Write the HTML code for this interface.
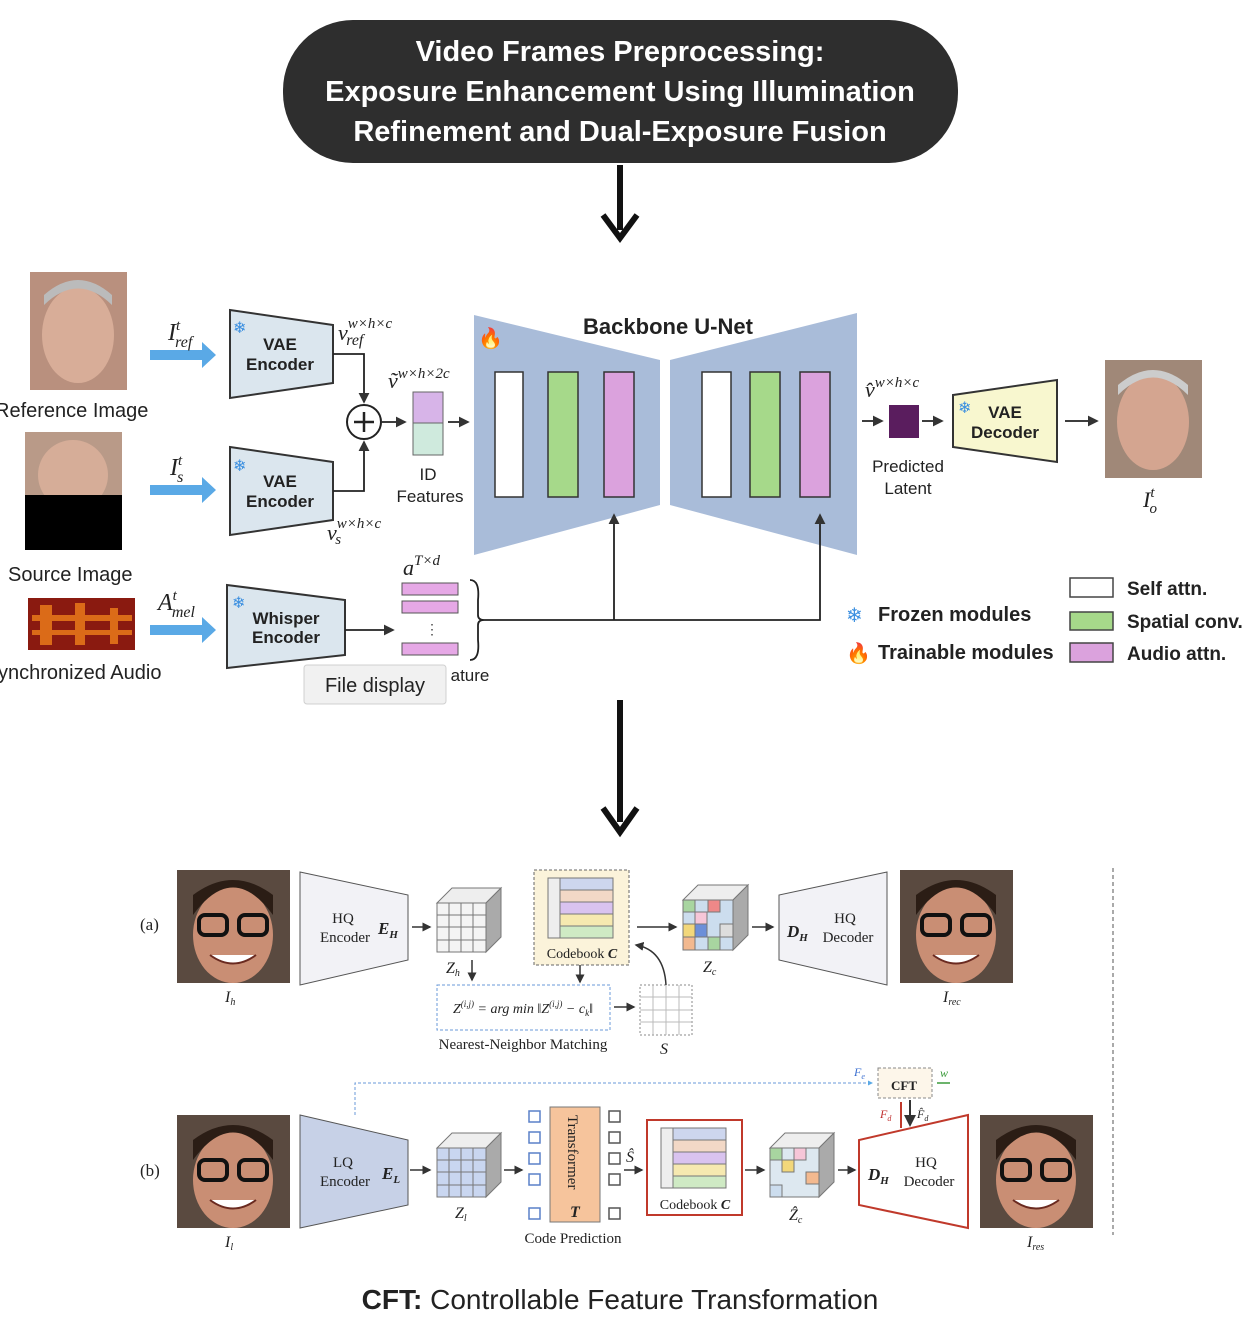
<!DOCTYPE html>
<html><head><meta charset="utf-8"><style>
html,body{margin:0;padding:0;background:#fff;}
svg{display:block;}
.s{font-family:"Liberation Sans",sans-serif;}
.r{font-family:"Liberation Serif",serif;}
</style></head><body>
<svg width="1260" height="1324" viewBox="0 0 1260 1324" xmlns="http://www.w3.org/2000/svg">
<defs>
<marker id="ahs" markerWidth="6" markerHeight="6" refX="5" refY="3" orient="auto"><path d="M0,0 L6,3 L0,6 z" fill="#333"/></marker>
<marker id="ahb" markerWidth="5" markerHeight="5" refX="4" refY="2.5" orient="auto"><path d="M0,0 L5,2.5 L0,5 z" fill="#5aa9e6"/></marker>
</defs>
<rect x="283" y="20" width="675" height="143" rx="70" fill="#2e2e2e"/>
<g class="s" fill="#fff" font-weight="bold" font-size="29" text-anchor="middle">
<text x="620" y="61">Video Frames Preprocessing:</text>
<text x="620" y="101">Exposure Enhancement Using Illumination</text>
<text x="620" y="141">Refinement and Dual-Exposure Fusion</text>
</g>
<line x1="620" y1="165" x2="620" y2="230" stroke="#111" stroke-width="6"/>
<path d="M603,215 L620,238 L637,215" fill="none" stroke="#111" stroke-width="6"/>

<rect x="30" y="272" width="97" height="118" fill="#b9907e"/>
<ellipse cx="78" cy="335" rx="36" ry="48" fill="#d8ad98"/>
<path d="M44,305 Q78,272 112,305 L112,295 Q78,265 44,295z" fill="#bbb"/>
<text x="-5" y="417" class="s" font-size="20" fill="#222">Reference Image</text>
<rect x="25" y="432" width="97" height="118" fill="#000"/>
<rect x="25" y="432" width="97" height="63" fill="#b99a88"/>
<ellipse cx="73" cy="475" rx="35" ry="35" fill="#d6ad98"/>
<rect x="25" y="495" width="97" height="55" fill="#000"/>
<text x="8" y="581" class="s" font-size="20" fill="#222">Source Image</text>
<rect x="28" y="598" width="107" height="52" fill="#8a1a10"/>
<g fill="#f0801a" opacity="0.8"><rect x="32" y="615" width="100" height="6"/><rect x="32" y="630" width="100" height="5"/><rect x="40" y="605" width="12" height="40"/><rect x="75" y="603" width="10" height="42"/><rect x="110" y="608" width="8" height="36"/></g>
<text x="-2" y="679" class="s" font-size="20" fill="#222">ynchronized Audio</text>

<g fill="#5aa9e6">
<path d="M150,350 h52 v-8 l14,13 l-14,13 v-8 h-52z"/>
<path d="M150,485 h52 v-8 l14,13 l-14,13 v-8 h-52z"/>
<path d="M150,625 h52 v-8 l14,13 l-14,13 v-8 h-52z"/>
</g>
<g class="r" font-style="italic" font-size="24" fill="#222">
<text x="168" y="340">I<tspan font-size="15" dy="-10">t</tspan><tspan font-size="16" dx="-5" dy="17">ref</tspan></text>
<text x="170" y="475">I<tspan font-size="15" dy="-10">t</tspan><tspan font-size="16" dx="-5" dy="17">s</tspan></text>
<text x="158" y="610">A<tspan font-size="15" dy="-10">t</tspan><tspan font-size="16" dx="-5" dy="17">mel</tspan></text>
</g>

<g stroke="#333" stroke-width="2" fill="#dbe6ee">
<path d="M230,310 L333,325 L333,383 L230,398z"/>
<path d="M230,447 L333,462 L333,520 L230,535z"/>
<path d="M227,585 L345,600 L345,655 L227,668z"/>
</g>
<g class="s" font-weight="bold" font-size="17" fill="#222" text-anchor="middle">
<text x="280" y="350">VAE</text><text x="280" y="370">Encoder</text>
<text x="280" y="487">VAE</text><text x="280" y="507">Encoder</text>
<text x="286" y="624">Whisper</text><text x="286" y="643">Encoder</text>
</g>
<g fill="#3b8fe0" font-size="16" class="s"><text x="233" y="333">❄</text><text x="233" y="471">❄</text><text x="232" y="608">❄</text></g>

<g fill="none" stroke="#222" stroke-width="1.8">
<path d="M333,354 H364 V402" marker-end="url(#ahs)"/>
<path d="M333,491 H364 V442" marker-end="url(#ahs)"/>
<line x1="382" y1="422" x2="405" y2="422" marker-end="url(#ahs)"/>
<line x1="448" y1="422" x2="468" y2="422" marker-end="url(#ahs)"/>
<line x1="345" y1="630" x2="393" y2="630" marker-end="url(#ahs)"/>
</g>
<circle cx="364" cy="422" r="17" fill="#fff" stroke="#222" stroke-width="2"/>
<path d="M364,412 V432 M354,422 H374" stroke="#222" stroke-width="2.5"/>
<rect x="413" y="392" width="30" height="31" fill="#d7b4e8" stroke="#666"/>
<rect x="413" y="423" width="30" height="32" fill="#cfeadd" stroke="#666"/>
<g class="r" font-style="italic" font-size="22" fill="#222">
<text x="338" y="340">v<tspan font-size="15" dy="-12">w×h×c</tspan><tspan font-size="16" dx="-46" dy="17">ref</tspan></text>
<text x="388" y="388">ṽ<tspan font-size="15" dy="-10">w×h×2c</tspan></text>
<text x="327" y="540">v<tspan font-size="15" dy="-12">w×h×c</tspan><tspan font-size="15" dx="-46" dy="16">s</tspan></text>
<text x="403" y="575">a<tspan font-size="15" dy="-10">T×d</tspan></text>
<text x="865" y="397">v̂<tspan font-size="15" dy="-10">w×h×c</tspan></text>
<text x="1143" y="507">I<tspan font-size="15" dy="-10">t</tspan><tspan font-size="15" dx="-5" dy="16">o</tspan></text>
</g>
<g class="s" font-size="17" fill="#222" text-anchor="middle">
<text x="428" y="480">ID</text><text x="430" y="502">Features</text>
<text x="908" y="472">Predicted</text><text x="908" y="494">Latent</text>
<text x="470" y="681">ature</text>
</g>

<path d="M474,315 L660,360 L660,505 L474,555z" fill="#a9bcd9"/>
<path d="M670,360 L857,313 L857,555 L670,505z" fill="#a9bcd9"/>
<g stroke="#333" stroke-width="1.5">
<rect x="495" y="372" width="28" height="125" fill="#fff"/>
<rect x="548" y="372" width="30" height="125" fill="#a6d98a"/>
<rect x="604" y="372" width="30" height="125" fill="#dba2dd"/>
<rect x="702" y="372" width="29" height="125" fill="#fff"/>
<rect x="750" y="372" width="30" height="125" fill="#a6d98a"/>
<rect x="800" y="372" width="30" height="125" fill="#dba2dd"/>
</g>
<text x="668" y="334" class="s" font-weight="bold" font-size="22" fill="#222" text-anchor="middle">Backbone U-Net</text>
<text x="478" y="345" font-size="20" fill="#f07a20">🔥</text>

<g fill="#e6a8e6" stroke="#555">
<rect x="402" y="583" width="56" height="12"/><rect x="402" y="601" width="56" height="12"/><rect x="402" y="643" width="56" height="12"/>
</g>
<text x="425" y="634" class="s" font-size="14" fill="#444">⋮</text>
<path d="M470,580 Q480,580 478,600 L478,615 Q478,620 484,620 Q478,620 478,625 L478,640 Q480,660 470,660" fill="none" stroke="#222" stroke-width="1.8"/>
<g fill="none" stroke="#222" stroke-width="1.8">
<path d="M484,620 H820 V515" marker-end="url(#ahs)"/>
<path d="M614,620 V515" marker-end="url(#ahs)"/>
<line x1="862" y1="421" x2="882" y2="421" marker-end="url(#ahs)"/>
<line x1="922" y1="421" x2="942" y2="421" marker-end="url(#ahs)"/>
<line x1="1065" y1="421" x2="1097" y2="421" marker-end="url(#ahs)"/>
</g>
<rect x="889" y="405" width="30" height="33" fill="#5a1d5e"/>
<path d="M953,395 L1057,380 L1057,462 L953,447z" fill="#f8f7cf" stroke="#333" stroke-width="2"/>
<text x="1005" y="418" class="s" font-weight="bold" font-size="17" text-anchor="middle" fill="#222">VAE</text>
<text x="1005" y="438" class="s" font-weight="bold" font-size="17" text-anchor="middle" fill="#222">Decoder</text>
<text x="958" y="413" font-size="16" fill="#3b8fe0" class="s">❄</text>
<rect x="1105" y="360" width="97" height="118" fill="#a08878"/>
<ellipse cx="1153" cy="422" rx="36" ry="48" fill="#d4a590"/>
<path d="M1118,395 Q1153,360 1188,395 L1188,385 Q1153,355 1118,385z" fill="#ccc"/>

<text x="846" y="622" font-size="20" fill="#3b8fe0" class="s">❄</text>
<text x="878" y="621" class="s" font-weight="bold" font-size="20" fill="#222">Frozen modules</text>
<text x="846" y="660" font-size="20" fill="#f07a20">🔥</text>
<text x="878" y="659" class="s" font-weight="bold" font-size="20" fill="#222">Trainable modules</text>
<g stroke="#444" stroke-width="1.5">
<rect x="1070" y="578" width="43" height="19" fill="#fff"/>
<rect x="1070" y="612" width="43" height="18" fill="#a6d98a"/>
<rect x="1070" y="643" width="43" height="19" fill="#dba2dd"/>
</g>
<g class="s" font-weight="bold" font-size="19" fill="#222">
<text x="1127" y="595">Self attn.</text><text x="1127" y="628">Spatial conv.</text><text x="1127" y="660">Audio attn.</text>
</g>
<rect x="304" y="665" width="142" height="39" rx="3" fill="#f1f1f1" stroke="#d0d0d0"/>
<text x="375" y="692" class="s" font-size="20" fill="#222" text-anchor="middle">File display</text>

<line x1="620" y1="700" x2="620" y2="822" stroke="#111" stroke-width="6"/>
<path d="M603,808 L620,832 L637,808" fill="none" stroke="#111" stroke-width="6"/>

<g class="r" font-size="17" fill="#222">
<text x="140" y="930">(a)</text><text x="140" y="1176">(b)</text>
</g>
<g id="face">
<rect x="177" y="870" width="113" height="113" fill="#5a4a40"/>
<ellipse cx="233" cy="935" rx="40" ry="48" fill="#c98e74"/>
<path d="M193,915 Q233,860 273,915 L273,895 Q233,865 193,895z" fill="#2b1d15"/>
<rect x="199" y="915" width="28" height="20" rx="6" fill="none" stroke="#111" stroke-width="4"/>
<rect x="239" y="915" width="28" height="20" rx="6" fill="none" stroke="#111" stroke-width="4"/>
<path d="M210,955 Q233,972 256,955" fill="#fff" stroke="#6a2a20" stroke-width="2"/>
</g>
<use href="#face" x="723" y="0"/>
<use href="#face" x="0" y="245"/>
<use href="#face" x="803" y="245"/>
<path d="M300,872 L408,895 L408,960 L300,985z" fill="#f2f2f6" stroke="#555"/>
<path d="M887,872 L779,895 L779,960 L887,985z" fill="#f2f2f6" stroke="#555"/>
<path d="M300,1115 L408,1140 L408,1205 L300,1228z" fill="#c7d1e7" stroke="#555"/>
<path d="M968,1115 L859,1140 L859,1205 L968,1228z" fill="#fff" stroke="#c0392b" stroke-width="2"/>
<rect x="878" y="1068" width="54" height="30" fill="#fdf6ea" stroke="#888" stroke-dasharray="3,2"/>
<g class="r" font-size="15" fill="#222" text-anchor="middle">
<text x="343" y="923">HQ</text><text x="345" y="942">Encoder</text>
<text x="845" y="923">HQ</text><text x="848" y="942">Decoder</text>
<text x="343" y="1167">LQ</text><text x="345" y="1186">Encoder</text>
<text x="926" y="1167">HQ</text><text x="929" y="1186">Decoder</text>
<text x="523" y="1049">Nearest-Neighbor Matching</text>
<text x="573" y="1243">Code Prediction</text>
<text x="904" y="1090" font-weight="bold" font-size="13">CFT</text>
</g>
<g class="r" font-style="italic" font-weight="bold" font-size="17" fill="#222">
<text x="378" y="934">E<tspan font-size="11" dy="4">H</tspan></text>
<text x="787" y="937">D<tspan font-size="11" dy="4">H</tspan></text>
<text x="382" y="1179">E<tspan font-size="11" dy="4">L</tspan></text>
<text x="868" y="1180">D<tspan font-size="11" dy="4">H</tspan></text>
</g>
<g class="r" font-style="italic" font-size="16" fill="#222">
<text x="446" y="973">Z<tspan font-size="10" dy="3">h</tspan></text>
<text x="703" y="972">Z<tspan font-size="10" dy="3">c</tspan></text>
<text x="225" y="1002">I<tspan font-size="10" dy="3">h</tspan></text>
<text x="943" y="1002">I<tspan font-size="10" dy="3">rec</tspan></text>
<text x="660" y="1054">S</text>
<text x="225" y="1247">I<tspan font-size="10" dy="3">l</tspan></text>
<text x="455" y="1218">Z<tspan font-size="10" dy="3">l</tspan></text>
<text x="789" y="1220">Ẑ<tspan font-size="10" dy="3">c</tspan></text>
<text x="1027" y="1247">I<tspan font-size="10" dy="3">res</tspan></text>
<text x="626" y="1162">Ŝ</text>
<text x="854" y="1076" fill="#3b6fd0" font-size="12">F<tspan font-size="8" dy="3">e</tspan></text>
<text x="940" y="1077" fill="#3a9a3a" font-size="12">w</text>
<text x="880" y="1118" fill="#c03030" font-size="12">F<tspan font-size="8" dy="3">d</tspan></text>
<text x="917" y="1118" font-size="12">F̂<tspan font-size="8" dy="3">d</tspan></text>
</g>
<g stroke="#777" stroke-width="1">
<path d="M437,903 L452,888 L501,888 L486,903z" fill="#eee"/>
<path d="M486,903 L501,888 L501,937 L486,952z" fill="#aaa"/>
<rect x="437" y="903" width="49" height="49" fill="#f4f4f4"/>
<path d="M449,903V952M461,903V952M473,903V952M437,915H486M437,927H486M437,940H486" fill="none"/>
<path d="M683,900 L698,885 L748,885 L733,900z" fill="#eee"/>
<path d="M733,900 L748,885 L748,935 L733,950z" fill="#aaa"/>
<rect x="683" y="900" width="50" height="50" fill="#cde"/>
<rect x="683" y="900" width="12" height="12" fill="#a8d5a0"/><rect x="708" y="900" width="12" height="12" fill="#e88"/><rect x="695" y="912" width="12" height="12" fill="#f6c6d8"/><rect x="683" y="924" width="12" height="13" fill="#f2d77a"/><rect x="695" y="924" width="12" height="13" fill="#6c8fd8"/><rect x="720" y="924" width="13" height="13" fill="#ddd"/><rect x="683" y="937" width="12" height="13" fill="#f3b98f"/><rect x="708" y="937" width="12" height="13" fill="#a8d5a0"/>
<path d="M437,1148 L452,1133 L501,1133 L486,1148z" fill="#eee"/>
<path d="M486,1148 L501,1133 L501,1182 L486,1197z" fill="#aaa"/>
<rect x="437" y="1148" width="49" height="49" fill="#c9d6f0"/>
<path d="M449,1148V1197M461,1148V1197M473,1148V1197M437,1160H486M437,1172H486M437,1185H486" fill="none"/>
<path d="M770,1148 L785,1133 L834,1133 L819,1148z" fill="#eee"/>
<path d="M819,1148 L834,1133 L834,1182 L819,1197z" fill="#aaa"/>
<rect x="770" y="1148" width="49" height="49" fill="#dde8f0"/>
<rect x="770" y="1148" width="12" height="12" fill="#a8d5a0"/><rect x="794" y="1148" width="12" height="12" fill="#f6c6d8"/><rect x="782" y="1160" width="12" height="12" fill="#f2d77a"/><rect x="806" y="1172" width="13" height="12" fill="#f3b98f"/><rect x="770" y="1185" width="12" height="12" fill="#cde"/>
</g>
<rect x="534" y="870" width="95" height="95" fill="#fbf3da" stroke="#666" stroke-dasharray="3,2"/>
<rect x="647" y="1120" width="95" height="95" fill="#fff" stroke="#c0392b" stroke-width="2"/>
<g stroke="#777">
<rect x="548" y="878" width="12" height="60" fill="#eee"/>
<rect x="560" y="878" width="53" height="12" fill="#cdd6ee"/><rect x="560" y="890" width="53" height="12" fill="#f2d8c6"/><rect x="560" y="902" width="53" height="12" fill="#d9c3ef"/><rect x="560" y="914" width="53" height="12" fill="#f6e9b0"/><rect x="560" y="926" width="53" height="12" fill="#cfeac4"/>
<rect x="661" y="1128" width="12" height="60" fill="#eee"/>
<rect x="673" y="1128" width="53" height="12" fill="#cdd6ee"/><rect x="673" y="1140" width="53" height="12" fill="#f2d8c6"/><rect x="673" y="1152" width="53" height="12" fill="#d9c3ef"/><rect x="673" y="1164" width="53" height="12" fill="#f6e9b0"/><rect x="673" y="1176" width="53" height="12" fill="#cfeac4"/>
</g>
<text x="582" y="958" class="r" font-size="14" text-anchor="middle" fill="#222">Codebook <tspan font-style="italic" font-weight="bold">C</tspan></text>
<text x="695" y="1209" class="r" font-size="14" text-anchor="middle" fill="#222">Codebook <tspan font-style="italic" font-weight="bold">C</tspan></text>
<rect x="437" y="985" width="173" height="45" fill="#fff" stroke="#6a9ad8" stroke-dasharray="3,2"/>
<text x="523" y="1013" class="r" font-size="14" text-anchor="middle" fill="#222" font-style="italic">Z<tspan font-size="9" dy="-6">(i,j)</tspan><tspan dy="6"> = arg min ‖Z</tspan><tspan font-size="9" dy="-6">(i,j)</tspan><tspan dy="6"> − c</tspan><tspan font-size="9" dy="3">k</tspan><tspan dy="-3">‖</tspan></text>
<rect x="640" y="985" width="52" height="50" fill="#fff" stroke="#888" stroke-dasharray="2,2"/>
<path d="M653,985V1035M666,985V1035M679,985V1035M640,997H692M640,1010H692M640,1022H692" stroke="#bbb" fill="none"/>
<g fill="none" stroke="#333" stroke-width="1.5">
<line x1="412" y1="927" x2="430" y2="927" marker-end="url(#ahs)"/>
<line x1="637" y1="927" x2="676" y2="927" marker-end="url(#ahs)"/>
<line x1="752" y1="927" x2="773" y2="927" marker-end="url(#ahs)"/>
<line x1="472" y1="960" x2="472" y2="980" marker-end="url(#ahs)"/>
<line x1="580" y1="965" x2="580" y2="982" marker-end="url(#ahs)"/>
<line x1="614" y1="1007" x2="634" y2="1007" marker-end="url(#ahs)"/>
<path d="M666,985 Q664,950 636,945" marker-end="url(#ahs)"/>
<line x1="410" y1="1170" x2="430" y2="1170" marker-end="url(#ahs)"/>
<line x1="504" y1="1170" x2="522" y2="1170" marker-end="url(#ahs)"/>
<line x1="624" y1="1170" x2="642" y2="1170" marker-end="url(#ahs)"/>
<line x1="745" y1="1170" x2="764" y2="1170" marker-end="url(#ahs)"/>
<line x1="838" y1="1170" x2="855" y2="1170" marker-end="url(#ahs)"/>
</g>
<line x1="1113" y1="868" x2="1113" y2="1235" stroke="#555" stroke-dasharray="4,3"/>
<g fill="#fff" stroke="#5a80c8" stroke-width="1.5">
<rect x="529" y="1111" width="11" height="11"/><rect x="529" y="1132" width="11" height="11"/><rect x="529" y="1153" width="11" height="11"/><rect x="529" y="1174" width="11" height="11"/><rect x="529" y="1208" width="11" height="11"/>
</g>
<g fill="#fff" stroke="#555" stroke-width="1.5">
<rect x="609" y="1111" width="11" height="11"/><rect x="609" y="1132" width="11" height="11"/><rect x="609" y="1153" width="11" height="11"/><rect x="609" y="1174" width="11" height="11"/><rect x="609" y="1208" width="11" height="11"/>
</g>
<rect x="550" y="1107" width="50" height="115" fill="#f6c49c" stroke="#777"/>
<text transform="translate(568,1115) rotate(90)" class="r" font-size="15" fill="#222">Transformer</text>
<text x="570" y="1217" class="r" font-style="italic" font-weight="bold" font-size="16" fill="#222">T</text>
<path d="M355,1115 V1083 H872" fill="none" stroke="#6a9ad8" stroke-dasharray="3,2" marker-end="url(#ahb)"/>
<line x1="950" y1="1083" x2="937" y2="1083" stroke="#3a9a3a" stroke-width="1.5"/>
<line x1="901" y1="1128" x2="901" y2="1102" stroke="#c0392b" stroke-width="2"/>
<line x1="910" y1="1100" x2="910" y2="1125" stroke="#333" stroke-width="2" marker-end="url(#ahs)"/>

<text x="620" y="1309" class="s" font-size="28" text-anchor="middle" fill="#222"><tspan font-weight="bold">CFT:</tspan> Controllable Feature Transformation</text>
</svg>
</body></html>
